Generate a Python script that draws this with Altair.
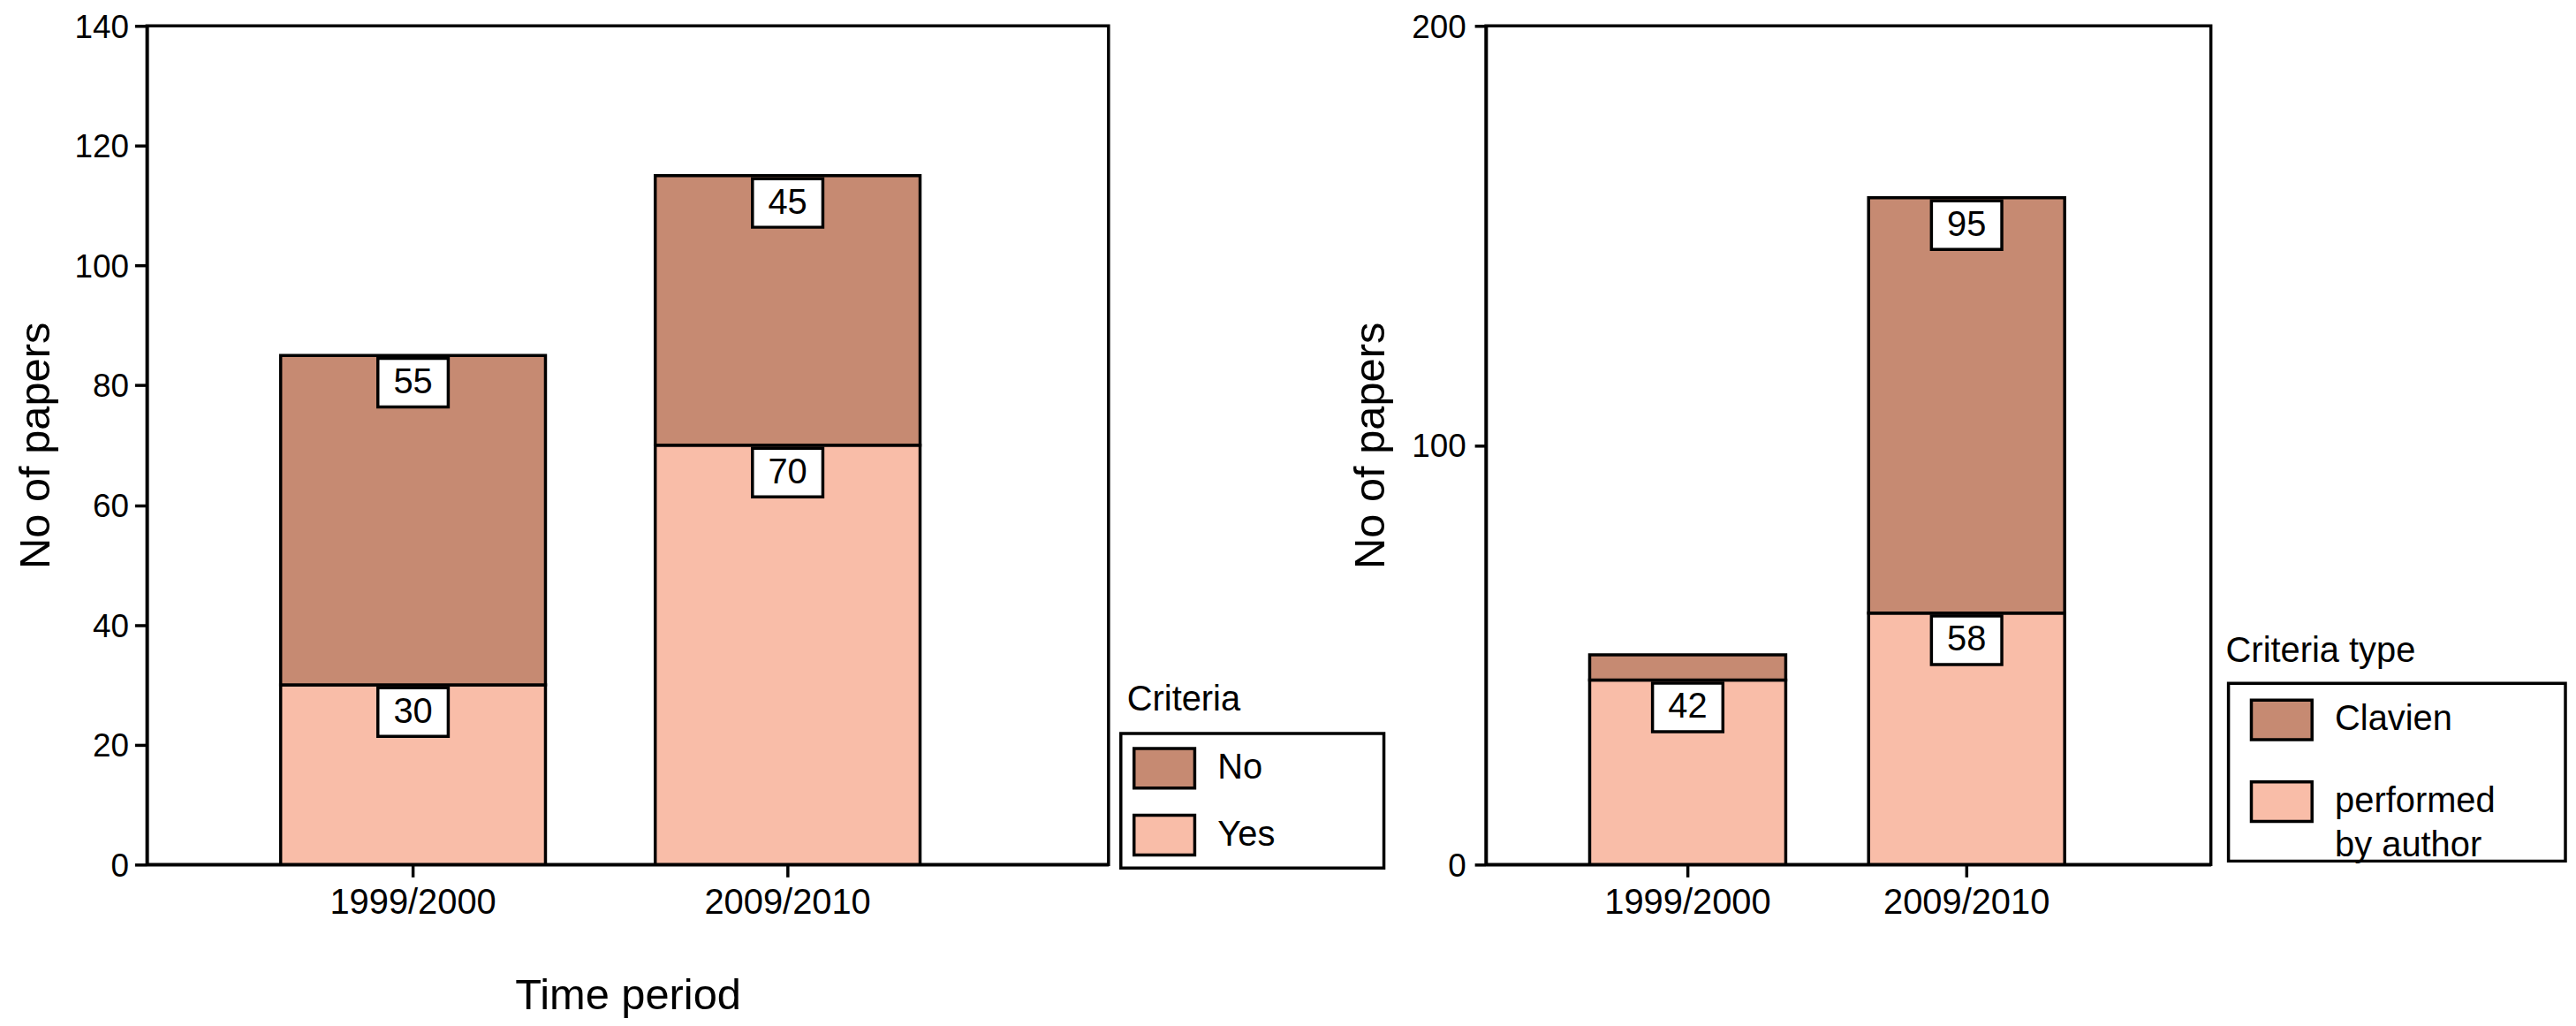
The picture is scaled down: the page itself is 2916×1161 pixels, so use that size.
import altair as alt
import pandas as pd

# ---------------- data ----------------
periods = ["1999/2000", "2009/2010"]

left_legend_order = ["No", "Yes"]
left_stack_order = ["Yes", "No"]          # bottom -> top
left_yes = [30, 70]
left_no = [55, 45]
left_yes_labels = ["30", "70"]
left_no_labels = ["55", "45"]
left_ticks = [0, 20, 40, 60, 80, 100, 120, 140]

right_legend_order = ["Clavien", "performed by author"]
right_stack_order = ["performed by author", "Clavien"]
right_author = [44, 60]
right_clavien = [6, 99]
right_author_labels = ["42", "58"]
right_clavien_labels = ["", "95"]
right_ticks = [0, 100, 200]

DARK = "#C68A72"
LIGHT = "#F9BDA8"
FONT = "Liberation Sans"
BOX = "M-1,-0.69L1,-0.69L1,0.69L-1,0.69Z"
LEG_SYM = "M-1,-0.652L1,-0.652L1,0.652L-1,0.652Z"
SW = 3.5
H = 953


def make_df(series, stack_order):
    rows = []
    for cat, (vals, labs) in series.items():
        for p, v, l in zip(periods, vals, labs):
            rows.append({"period": p, "cat": cat, "value": v, "label": l,
                         "order": stack_order.index(cat)})
    return pd.DataFrame(rows)


left_df = make_df({"Yes": (left_yes, left_yes_labels),
                   "No": (left_no, left_no_labels)}, left_stack_order)
right_df = make_df({"performed by author": (right_author, right_author_labels),
                    "Clavien": (right_clavien, right_clavien_labels)}, right_stack_order)


def panel(df, legend_order, ymax, yticks, width, height, xtitle, xscale,
          legend_title, legend_xy, row_pad, box, title_xy, ytitle_pad,
          ytick_size, ylabel_pad, label_expr=None):
    x_axis = alt.Axis(title=xtitle, labelAngle=0, bandPosition=0.5, labelFontSize=40,
                      labelPadding=9, labelLimit=600, titleFontSize=49, titlePadding=62,
                      tickSize=14)
    x = alt.X("period:N", sort=periods,
              scale=alt.Scale(paddingInner=xscale[0], paddingOuter=xscale[1], align=xscale[2]),
              axis=x_axis)
    y_axis = alt.Axis(values=yticks, title="No of papers", labelFontSize=37, labelOffset=2,
                      titleFontSize=49, titlePadding=ytitle_pad, tickSize=ytick_size,
                      labelPadding=ylabel_pad)
    yscale = alt.Scale(domain=[0, ymax], nice=False, zero=True)

    leg = dict(orient="none", legendX=legend_xy[0], legendY=legend_xy[1], title=None,
               symbolType=LEG_SYM, symbolSize=4761, symbolStrokeColor="black",
               symbolStrokeWidth=SW, symbolOpacity=1, labelFontSize=40, labelFont=FONT,
               labelColor="black", labelOffset=24, labelLimit=600, rowPadding=row_pad,
               padding=0)
    if label_expr:
        leg["labelExpr"] = label_expr

    bars = alt.Chart(df).mark_bar(stroke="black", strokeWidth=SW, opacity=1).encode(
        x=x,
        y=alt.Y("value:Q", stack="zero", scale=yscale, axis=y_axis),
        color=alt.Color("cat:N", scale=alt.Scale(domain=legend_order, range=[DARK, LIGHT]),
                        legend=alt.Legend(**leg)),
        order=alt.Order("order:Q", sort="ascending"),
    )
    tops = alt.Chart(df).transform_window(
        top="sum(value)", groupby=["period"],
        sort=[alt.SortField("order", order="ascending")], frame=[None, 0]
    ).transform_filter("datum.label != ''")
    boxes = tops.mark_point(shape=BOX, size=6400, filled=True, fill="white", stroke="black",
                            strokeWidth=SW, opacity=1, yOffset=31).encode(
        x=x, y=alt.Y("top:Q", scale=yscale, axis=y_axis))
    texts = tops.mark_text(font=FONT, fontSize=40, color="black", baseline="middle",
                           align="center", yOffset=31).encode(
        x=x, y=alt.Y("top:Q", scale=yscale, axis=y_axis), text="label:N")

    meta = alt.Chart(pd.DataFrame({"t": [legend_title]}))
    lbox = meta.mark_rect(fill="white", fillOpacity=0, stroke="black", strokeWidth=SW).encode(
        x=alt.value(box[0]), x2=alt.value(box[1]), y=alt.value(box[2]), y2=alt.value(box[3]))
    ltitle = meta.mark_text(font=FONT, fontSize=40, align="left", baseline="alphabetic",
                            color="black").encode(
        x=alt.value(title_xy[0]), y=alt.value(title_xy[1]), text="t:N")
    return alt.layer(bars, boxes, texts, lbox, ltitle).properties(width=width, height=height)


left = panel(left_df, left_legend_order, 140, left_ticks, 1093, H, "Time period",
             (0.293, 0.43, 0.415), "Criteria", (1120, 807), 10,
             (1107, 1406, 804, 957), (1114, 778), 19, 14, 7)
right = panel(right_df, right_legend_order, 200, right_ticks, 824, H, None,
              (0.297, 0.448, 0.415), "Criteria type", (868, 752), 27,
              (844, 1227, 747, 949), (841, 723), 21, 13, 10,
              label_expr="datum.label == 'performed by author' ? ['performed', 'by author'] : datum.label")

chart = alt.hconcat(left, right, spacing=429, bounds="flush").resolve_scale(
    color="independent"
).resolve_legend(
    color="independent"
).configure(
    style={"guide-label": {"lineHeight": 50}}
).configure_view(
    stroke="black", strokeWidth=SW
).configure_axis(
    domainColor="black", domainWidth=SW, tickColor="black", tickWidth=SW,
    labelFont=FONT, titleFont=FONT, labelColor="black", titleColor="black",
    grid=False, titleFontWeight="normal"
).properties(padding={"left": 6, "top": 0, "right": 0, "bottom": 0}, background="white")

chart.save("out.html", embed_options={"renderer": "svg", "actions": False})
